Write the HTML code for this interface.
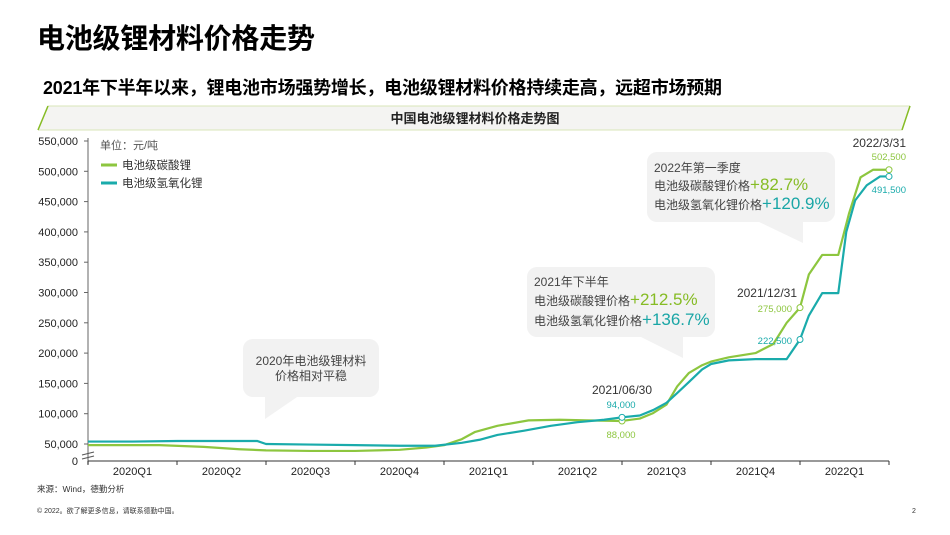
<!DOCTYPE html>
<html><head><meta charset="utf-8"><style>
body{margin:0;background:#fff}
svg{display:block;font-family:"Liberation Sans","Noto Sans CJK SC",sans-serif}
</style></head><body>
<svg id="c" width="950" height="535" viewBox="0 0 950 535">
<text x="37" y="48" font-size="28" font-weight="bold" fill="#000" textLength="278">电池级锂材料价格走势</text>
<text x="43" y="94" font-size="18" font-weight="bold" fill="#000" textLength="679">2021年下半年以来，锂电池市场强势增长，电池级锂材料价格持续走高，远超市场预期</text>
<g>
<polygon points="48,106 910,106 902,130 38,130" fill="#f4f4f2"/>
<line x1="48" y1="106" x2="910" y2="106" stroke="#d9e6b8"/>
<line x1="38" y1="130" x2="902" y2="130" stroke="#d9e6b8"/>
<line x1="48" y1="106" x2="38" y2="130" stroke="#86bc25" stroke-width="1.5"/>
<line x1="910" y1="106" x2="902" y2="130" stroke="#86bc25" stroke-width="1.5"/>
<text x="475" y="123" font-size="13" font-weight="bold" text-anchor="middle" fill="#222">中国电池级锂材料价格走势图</text>
</g>
<g id="axes"></g>
<g id="callouts" font-size="12" fill="#333">
<g>
<rect x="243" y="339" width="136" height="58" rx="10" fill="#f2f2f2"/>
<polygon points="265,395 300,395 265,419" fill="#f2f2f2"/>
<text x="311" y="365" text-anchor="middle" fill="#444">2020年电池级锂材料</text>
<text x="311" y="380" text-anchor="middle" fill="#444">价格相对平稳</text>
</g>
<g>
<rect x="527" y="267" width="188" height="70" rx="10" fill="#f2f2f2"/>
<polygon points="637,335 683,335 683,358" fill="#f2f2f2"/>
<text x="534" y="286" fill="#444">2021年下半年</text>
<text x="534" y="305" fill="#444">电池级碳酸锂价格<tspan font-size="17" fill="#86bc25">+212.5%</tspan></text>
<text x="534" y="325" fill="#444">电池级氢氧化锂价格<tspan font-size="17" fill="#1aa6a6">+136.7%</tspan></text>
</g>
<g>
<rect x="647" y="152" width="188" height="70" rx="10" fill="#f2f2f2"/>
<polygon points="755,220 803,220 803,243" fill="#f2f2f2"/>
<text x="654" y="172" fill="#444">2022年第一季度</text>
<text x="654" y="190" fill="#444">电池级碳酸锂价格<tspan font-size="17" fill="#86bc25">+82.7%</tspan></text>
<text x="654" y="209" fill="#444">电池级氢氧化锂价格<tspan font-size="17" fill="#1aa6a6">+120.9%</tspan></text>
</g>
</g>
<g id="series"></g>
<g id="notes" font-size="11"></g>
<text x="37" y="492" font-size="8.5" fill="#333">来源：Wind，德勤分析</text>
<text x="37" y="513" font-size="7" fill="#333">© 2022。欲了解更多信息，请联系德勤中国。</text>
<text x="912" y="513" font-size="7" fill="#333">2</text>
</svg>
<script>
const quarterLabels=["2020Q1","2020Q2","2020Q3","2020Q4","2021Q1","2021Q2","2021Q3","2021Q4","2022Q1"];
const yTicks=[50000,100000,150000,200000,250000,300000,350000,400000,450000,500000,550000];
const carbT=[0,0.8,1.3,1.7,2.0,2.5,3.0,3.5,3.8,4.0,4.2,4.35,4.6,4.95,5.3,5.6,6.0,6.2,6.35,6.5,6.62,6.75,6.9,7.0,7.2,7.5,7.7,7.85,8.0,8.1,8.25,8.43,8.55,8.68,8.82,9.0];
const carbV=[48000,48000,45000,41000,39000,38000,38000,40000,44000,48000,58000,70000,80000,89000,90000,89000,88000,92000,101000,115000,145000,167000,180000,186000,193000,200000,215000,250000,275000,330000,362000,362000,430000,490000,502500,502500];
const hydT=[0,0.5,1.0,1.9,2.0,2.5,3.0,3.5,3.9,4.2,4.4,4.6,4.9,5.2,5.5,5.8,6.0,6.2,6.35,6.5,6.62,6.75,6.9,7.0,7.2,7.5,7.85,8.0,8.1,8.25,8.43,8.52,8.62,8.75,8.9,9.0];
const hydV=[54000,54000,55000,55000,50000,49000,48000,47000,47000,52000,57000,65000,72000,80000,86000,90000,94000,97000,106000,118000,134000,152000,173000,182000,188000,190000,190000,222500,262000,299000,299000,400000,452000,477000,491500,491500];
const NS="http://www.w3.org/2000/svg";
const X0=88,QW=89;
function xs(t){return X0+t*QW;}
function ys(v){return v>=50000?444-(v-50000)*0.000606:444-(v-50000)*0.00058;}
function mk(tag,attrs,parent){const e=document.createElementNS(NS,tag);for(const k in attrs)e.setAttribute(k,attrs[k]);parent.appendChild(e);return e;}
const ax=document.getElementById('axes');
let e=mk('line',{x1:X0,y1:138,x2:X0,y2:464,stroke:'#888','stroke-width':1.3},ax);


e=mk('line',{x1:X0,y1:461,x2:889,y2:461,stroke:'#333','stroke-width':1},ax);


mk('line',{x1:82,y1:455,x2:94,y2:452,stroke:'#555'},ax);
mk('line',{x1:82,y1:459,x2:94,y2:456,stroke:'#555'},ax);
yTicks.forEach(v=>{const y=ys(v);mk('line',{x1:X0-4,y1:y,x2:X0,y2:y,stroke:'#666'},ax);
const t=mk('text',{x:78,y:y+4,'font-size':11,'text-anchor':'end',fill:'#222'},ax);t.textContent=v.toLocaleString('en-US');

});
let z=mk('text',{x:78,y:465,'font-size':11,'text-anchor':'end',fill:'#222'},ax);z.textContent='0';
quarterLabels.forEach((q,i)=>{mk('line',{x1:xs(i),y1:461,x2:xs(i),y2:465,stroke:'#333'},ax);
const t=mk('text',{x:xs(i+0.5),y:475,'font-size':11,'text-anchor':'middle',fill:'#222'},ax);t.textContent=q;

});
mk('line',{x1:889,y1:461,x2:889,y2:465,stroke:'#333'},ax);
let u=mk('text',{x:100,y:149,'font-size':11,fill:'#555'},ax);u.textContent='单位：元/吨';


[['电池级碳酸锂','#8dc63f',169],['电池级氢氧化锂','#1aabab',187]].forEach(([n,c,y],i)=>{const g=mk('g',{},ax);


mk('line',{x1:101,y1:y-4,x2:117,y2:y-4,stroke:c,'stroke-width':3},g);
const t=mk('text',{x:122,y:y,'font-size':11.5,fill:'#333'},g);t.textContent=n;});
const se=document.getElementById('series');
function line(T,V,c,name){const p=mk('polyline',{points:T.map((t,i)=>xs(t)+','+ys(V[i])).join(' '),fill:'none',stroke:c,'stroke-width':2.2,'stroke-linejoin':'round'},se);

}
line(carbT,carbV,'#8dc63f','line-carbonate');
line(hydT,hydV,'#1aabab','line-hydroxide');
const nt=document.getElementById('notes');
function dot(t,v,c){mk('circle',{cx:xs(t),cy:ys(v),r:3,fill:'#fff',stroke:c,'stroke-width':1},nt);}
function txt(x,y,s,c,sz,a){const t=mk('text',{x:x,y:y,'font-size':sz,fill:c,'text-anchor':a||'middle'},nt);t.textContent=s;return t;}
dot(6,88000,'#8dc63f');dot(6,94000,'#1aabab');dot(8,275000,'#8dc63f');dot(8,222500,'#1aabab');dot(9,502500,'#8dc63f');dot(9,491500,'#1aabab');
txt(622,394,'2021/06/30','#333',12);txt(621,408,'94,000','#1aabab',9.5);txt(621,438,'88,000','#8dc63f',9.5);
txt(797,297,'2021/12/31','#333',12,'end');txt(792,312,'275,000','#8dc63f',9.5,'end');txt(792,344,'222,500','#1aabab',9.5,'end');
txt(906,147,'2022/3/31','#333',12,'end');txt(906,160,'502,500','#8dc63f',9.5,'end');txt(906,193,'491,500','#1aabab',9.5,'end');
</script>
</body></html>
